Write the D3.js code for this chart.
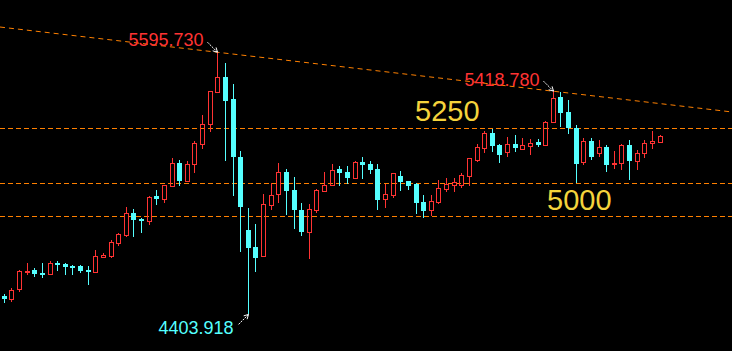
<!DOCTYPE html>
<html>
<head>
<meta charset="utf-8">
<script src="https://cdn.jsdelivr.net/npm/d3@7/dist/d3.min.js"></script>
<style>
  html, body { margin: 0; padding: 0; background: #000; }
  svg { display: block; }
</style>
</head>
<body>
<svg id="chart" width="732" height="351"></svg>
<script>
// ---- data ----
const opens  = [4489,4475,4521,4599,4606,4593,4589,4638,4635,4624,4624,4607,4598,4666,4670,4730,4766,4865,4839,4830,
                4942,4930,4989,5092,5010,5086,5177,5268,5414,5482,5382,5120,4788,4710,4671,4903,4950,5051,4970,4879,
                4780,4880,4966,4991,5064,5051,5025,5097,5088,5065,4930,4947,5033,5010,4997,4915,4879,4915,4974,4992,
                4992,5033,5106,5160,5229,5174,5142,5179,5156,5170,5188,5174,5279,5392,5324,5250,5098,5192,5138,5165,
                5086,5091,5174,5101,5139,5182,5186];
const highs  = [4495,4524,4606,4638,4615,4638,4645,4647,4638,4629,4629,4624,4697,4683,4742,4772,4892,4882,4841,4942,
                4970,4992,5116,5106,5101,5191,5310,5418,5595.730,5545,5450,5147,4886,4815,4950,5001,5092,5065,5029,4910,
                4906,4974,5053,5088,5079,5079,5101,5120,5101,5088,4997,5047,5056,5010,5001,4947,4947,5015,5024,5024,
                5047,5115,5179,5238,5247,5179,5210,5220,5206,5201,5201,5283,5418.780,5415,5379,5265,5206,5206,5197,5174,
                5147,5179,5197,5151,5197,5238,5220];
const lows   = [4457,4462,4507,4582,4574,4570,4589,4601,4583,4583,4594,4538,4598,4666,4662,4715,4757,4756,4774,4812,
                4901,4910,4989,4988,5010,5048,5157,5235,5414,5103,4944,4689,4403.918,4598,4671,4880,4912,4856,4792,4762,
                4657,4866,4966,4991,4989,4998,5025,5021,5042,4879,4888,4933,4965,4970,4860,4842,4851,4906,4960,4960,
                4979,4988,5097,5138,5142,5092,5120,5142,5156,5129,5165,5174,5279,5256,5224,5001,5083,5106,5120,5051,
                5065,5060,5015,5060,5115,5156,5186];
const closes = [4475,4514,4601,4601,4588,4591,4636,4629,4621,4616,4603,4601,4668,4674,4733,4770,4864,4833,4830,4936,
                4929,4992,5092,5010,5088,5182,5268,5418,5482,5375,5121,4894,4707,4662,4905,4945,5050,4966,4880,4780,
                4882,4968,4991,5059,5047,5024,5095,5085,5060,4924,4951,5047,5006,4989,4910,4874,4920,4979,4997,5006,
                5038,5115,5165,5229,5170,5129,5179,5160,5174,5183,5174,5279,5388,5320,5250,5088,5191,5120,5165,5083,
                5092,5173,5101,5138,5183,5192,5215];
const levels = [5250, 5000, 4850];          // dashed horizontal lines
const levelLabels = ["5250", "5000"];        // big yellow labels
const slots = 96;                            // candle slots across the width

// ---- setup ----
const W = 732, H = 351;
const svg = d3.select("#chart");
svg.append("rect").attr("width", W).attr("height", H).attr("fill", "#000");

const RED = "#ff3333", CYAN = "#55ffff", ORANGE = "#ff8000", YELLOW = "#f5d33c";

const x = d3.scaleLinear().domain([-0.5, slots - 0.5]).range([0, W]);
const y = d3.scaleLinear().domain([4237.7, 5833.2]).range([H, 0]);

const data = opens.map((o, i) => ({ i, o, h: highs[i], l: lows[i], c: closes[i] }));

// ---- horizontal dashed levels ----
svg.selectAll("line.level").data(levels).enter().append("line")
  .attr("class", "level")
  .attr("x1", 0).attr("x2", W)
  .attr("y1", d => Math.round(y(d)) + 0.5).attr("y2", d => Math.round(y(d)) + 0.5)
  .attr("stroke", ORANGE).attr("stroke-width", 1).attr("stroke-dasharray", "5,3");

// ---- trend line through the two highs ----
const iMax = d3.maxIndex(highs);
const iMax2 = d3.maxIndex(highs.slice(50)) + 50;
const x1 = x(iMax), y1 = y(highs[iMax]), x2 = x(iMax2), y2 = y(highs[iMax2]);
const slope = (y2 - y1) / (x2 - x1);
svg.append("line")
  .attr("x1", 0).attr("y1", y1 - slope * x1)
  .attr("x2", W).attr("y2", y1 + slope * (W - x1))
  .attr("stroke", ORANGE).attr("stroke-width", 1).attr("stroke-dasharray", "5,4");

// ---- candles ----
const g = svg.append("g");
data.forEach(d => {
  const cx = Math.round(x(d.i));
  const up = d.c >= d.o;
  const col = up ? RED : CYAN;
  const top = Math.round(y(Math.max(d.o, d.c)));
  const bot = Math.round(y(Math.min(d.o, d.c)));
  const hy = Math.round(y(d.h)), ly = Math.round(y(d.l));
  if (up) {
    if (hy < top) g.append("line").attr("x1", cx + 0.5).attr("x2", cx + 0.5).attr("y1", hy).attr("y2", top)
        .attr("stroke", col).attr("stroke-width", 1);
    if (ly > bot) g.append("line").attr("x1", cx + 0.5).attr("x2", cx + 0.5).attr("y1", bot).attr("y2", ly)
        .attr("stroke", col).attr("stroke-width", 1);
    const hgt = Math.max(bot - top, 1);
    g.append("rect").attr("x", cx - 2 + 0.5).attr("y", top + 0.5)
      .attr("width", 4).attr("height", hgt)
      .attr("fill", "none").attr("stroke", col).attr("stroke-width", 1);
  } else {
    g.append("line").attr("x1", cx + 0.5).attr("x2", cx + 0.5).attr("y1", hy).attr("y2", ly)
      .attr("stroke", col).attr("stroke-width", 1);
    g.append("rect").attr("x", cx - 2).attr("y", top)
      .attr("width", 5).attr("height", Math.max(bot - top, 2))
      .attr("fill", col);
  }
});

// ---- level labels ----
svg.append("text").attr("x", 415).attr("y", 121).text(levelLabels[0])
  .attr("fill", YELLOW).attr("font-family", "Liberation Sans, Arial, sans-serif").attr("font-size", 29);
svg.append("text").attr("x", 547).attr("y", 210).text(levelLabels[1])
  .attr("fill", YELLOW).attr("font-family", "Liberation Sans, Arial, sans-serif").attr("font-size", 29);

// ---- extreme annotations ----
function arrow(xs, ys, xe, ye) {
  svg.append("line").attr("x1", xs).attr("y1", ys).attr("x2", xe).attr("y2", ye)
    .attr("stroke", "#fff").attr("stroke-width", 1).attr("stroke-dasharray", "2,1");
  const ang = Math.atan2(ye - ys, xe - xs), L = 5;
  const p = [[xe - L * Math.cos(ang - 0.5), ye - L * Math.sin(ang - 0.5)], [xe, ye],
             [xe - L * Math.cos(ang + 0.5), ye - L * Math.sin(ang + 0.5)]];
  svg.append("polyline").attr("points", p.map(q => q.join(",")).join(" "))
    .attr("fill", "none").attr("stroke", "#fff").attr("stroke-width", 1);
}
const iMin = d3.minIndex(lows);
const fontF = "Liberation Sans, Arial, sans-serif";

const hx = Math.round(x(iMax)) + 0.5, hyy = y(highs[iMax]);
svg.append("text").attr("x", hx - 89).attr("y", hyy - 6).text(highs[iMax].toFixed(3))
  .attr("fill", RED).attr("font-family", fontF).attr("font-size", 18);
arrow(hx - 10, hyy - 10, hx, hyy);

const hx2 = Math.round(x(iMax2)) + 0.5, hy2 = y(highs[iMax2]);
svg.append("text").attr("x", hx2 - 89).attr("y", hy2 - 5).text(highs[iMax2].toFixed(3))
  .attr("fill", RED).attr("font-family", fontF).attr("font-size", 18);
arrow(hx2 - 10, hy2 - 10, hx2, hy2);

const lx = Math.round(x(iMin)) + 0.5, lyy = y(lows[iMin]);
svg.append("text").attr("x", lx - 90).attr("y", lyy + 20).text(lows[iMin].toFixed(3))
  .attr("fill", CYAN).attr("font-family", fontF).attr("font-size", 18);
arrow(lx - 10, lyy + 10, lx, lyy);
</script>
</body>
</html>
